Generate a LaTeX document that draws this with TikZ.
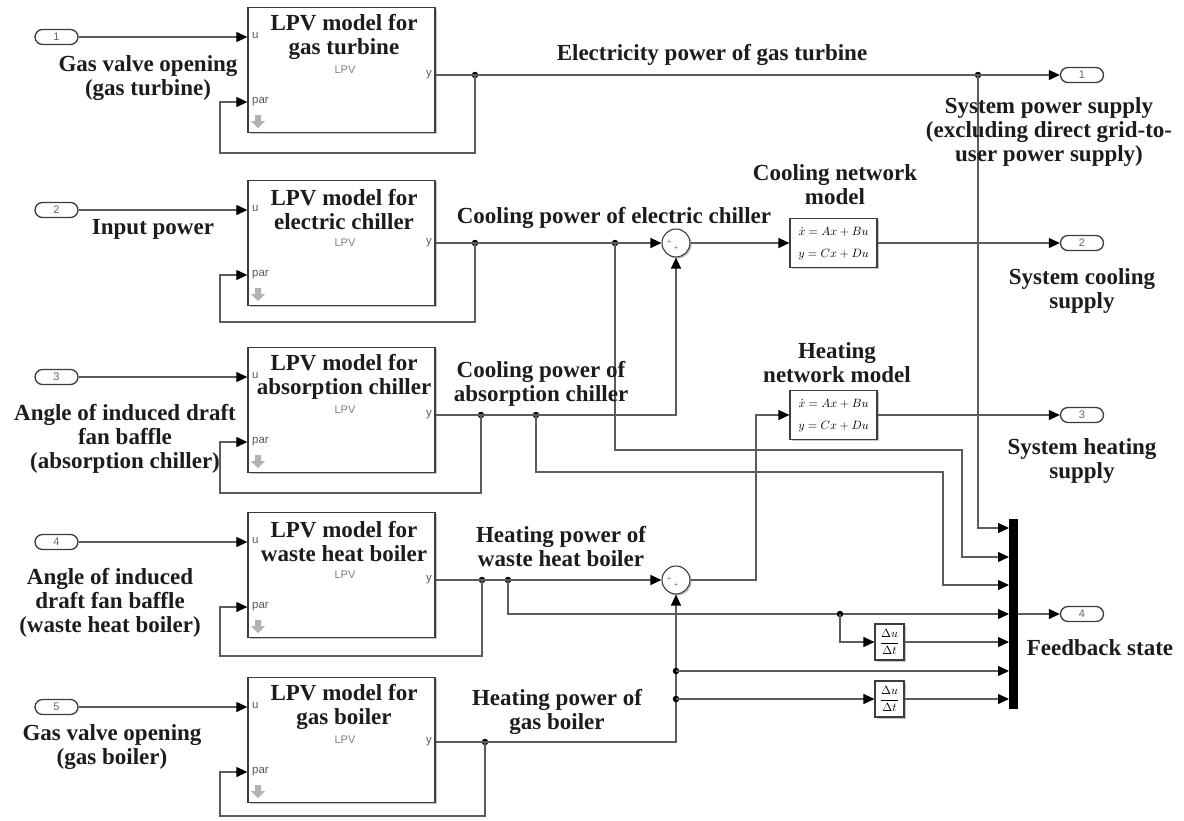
\documentclass[tikz,border=0pt]{standalone}
\usepackage{fontspec}
\setmainfont{Liberation Serif}
\setsansfont{Liberation Sans}
\usetikzlibrary{arrows.meta,shadows,calc}
\definecolor{wirec}{HTML}{5C5C5C}
\definecolor{boxc}{HTML}{3C3C3C}
\definecolor{txtc}{HTML}{1C1C1C}
\begin{document}
\begin{tikzpicture}[x=1pt,y=-1pt,
  wire/.style={draw=wirec,line width=1.2pt},
  arr/.style={wire,-{Triangle[length=11pt,width=10pt,color=black]}},
  shad/.style={drop shadow={shadow xshift=1.6pt,shadow yshift=-1.6pt,fill=black!22,opacity=1}},
  lpvbox/.style={draw=boxc,line width=1.3pt,fill=white,minimum width=187pt,minimum height=125pt,inner sep=0pt,shad},
  port/.style={draw=boxc,line width=1.3pt,rounded corners=7.5pt,minimum width=43pt,minimum height=15pt,inner sep=0pt,fill=white,
    font=\sffamily\fontsize{11}{11}\selectfont,text=black!60},
  lbl/.style={font=\bfseries\fontsize{23}{24}\selectfont,align=center,text=txtc,inner sep=0pt},
  small/.style={font=\sffamily\fontsize{11.5}{11.5}\selectfont,text=black!65,inner sep=0pt},
  lpvtxt/.style={font=\sffamily\fontsize{11}{11}\selectfont,text=black!50,inner sep=0pt},
  jdot/.style={circle,fill=black,inner sep=0pt,minimum size=6.5pt},
  sumc/.style={circle,draw=boxc,line width=1.1pt,fill=white,minimum size=28pt,inner sep=0pt,shad},
  ssbox/.style={draw=boxc,line width=1.2pt,fill=white,minimum width=87pt,minimum height=49pt,inner sep=0pt,shad},
  sstxt/.style={inner sep=0pt},
  dbox/.style={draw=boxc,line width=1.1pt,fill=white,minimum width=29pt,minimum height=36pt,inner sep=0pt,shad},
  plus/.style={font=\fontsize{8}{8}\selectfont,inner sep=0pt,text=black!70}
]
\useasboundingbox (0,0) rectangle (1184,820);

% ---------- LPV rows ----------
\foreach \n/\t/\o/\j/\f/\tb in {1/7/75/475/153/gas turbine,
                                   2/180/243/475/322/electric chiller,
                                   3/347/415/481/493/absorption chiller,
                                   4/512/580/482/656/waste heat boiler,
                                   5/677/742/485/816/gas boiler}{
  \node[lpvbox,anchor=north] (b\n) at (341.5,\t) {};
  \node[lbl] (b\n t) at (344,\t+30) {LPV model for\\\tb};
  \node[small,anchor=west] (b\n u) at (252,\t+29) {u};
  \node[small,anchor=west] (b\n p) at (252,\t+95) {par};
  \node[small,anchor=east] (b\n y) at (432,\o) {y};
  \node[lpvtxt] (b\n l) at (345,\t+63) {LPV};
  \fill[black!30] (255,\t+108) -- (261,\t+108) -- (261,\t+114) -- (265,\t+114) -- (258,\t+121) -- (251,\t+114) -- (255,\t+114) -- cycle;
  \node[port] (p\n) at (56.5,\t+30) {\n};
  \draw[arr] (p\n) -- (b\n.west |- p\n);
  \node[jdot] (jf\n) at (\j,\o) {};
  \draw[wire] (b\n.east |- jf\n) -- (jf\n.center);
  \draw[arr] (jf\n.center) -- (\j,\f) -- (220,\f) -- (220,\t+95) -- (b\n.west |- b\n p);
}

% ---------- input labels ----------
\node[lbl] (l1) at (148,78) {Gas valve opening\\(gas turbine)};
\node[lbl] (l2) at (153,229) {Input power};
\node[lbl] (l3) at (125,439) {Angle of induced draft\\fan baffle\\(absorption chiller)};
\node[lbl] (l4) at (110,603) {Angle of induced\\draft fan baffle\\(waste heat boiler)};
\node[lbl] (l5) at (112,747) {Gas valve opening\\(gas boiler)};

% ---------- mux ----------
\node[fill=black,minimum width=9pt,minimum height=190pt,inner sep=0pt] (mux) at (1013.5,614) {};
\coordinate (m1) at (1009,528);
\coordinate (m2) at (1009,557);
\coordinate (m3) at (1009,585);
\coordinate (m4) at (1009,614);
\coordinate (m5) at (1009,642);
\coordinate (m6) at (1009,671);
\coordinate (m7) at (1009,699);

% ---------- row 1 ----------
\node[jdot] (j1b) at (978,75) {};
\node[port] (o1) at (1082,75) {1};
\draw[arr] (jf1.center) -- (o1);
\draw[arr] (j1b.center) |- (m1);
\node[lbl] (t1) at (712,55) {Electricity power of gas turbine};

% ---------- row 2 ----------
\node[jdot] (j2b) at (615,243) {};
\node[sumc] (s1) at (676,243) {};
\node[plus] at ($(s1)+(-7,-1)$) {+};
\node[plus] at ($(s1)+(0,5)$) {+};
\draw[arr] (jf2.center) -- (s1);
\node[ssbox] (cn) at (833.5,243) {};
\node[sstxt] (cn1) at (833.5,232) {\scalebox{1.2}{$\dot{x} = Ax + Bu$}};
\node[sstxt] (cn2) at (833.5,255) {\scalebox{1.2}{$y = Cx + Du$}};
\draw[arr] (s1) -- (cn);
\node[port] (o2) at (1082,243) {2};
\draw[arr] (cn) -- (o2);
\draw[arr] (j2b.center) |- (962,450) |- (m2);
\node[lbl] (t2) at (614,218) {Cooling power of electric chiller};
\node[lbl] (t2b) at (835,185) {Cooling network\\model};

% ---------- row 3 ----------
\node[jdot] (j3b) at (536,415) {};
\draw[arr] (jf3.center) -| (s1.south);
\draw[arr] (j3b.center) |- (943,472) |- (m3);
\node[lbl] (t3) at (541,384) {Cooling power of\\absorption chiller};

% ---------- row 4 ----------
\node[jdot] (j4b) at (508,580) {};
\node[sumc] (s2) at (676,580) {};
\node[plus] at ($(s2)+(-7,-1)$) {+};
\node[plus] at ($(s2)+(0,5)$) {+};
\draw[arr] (jf4.center) -- (s2);
\draw[arr] (j4b.center) |- (m4);
\node[jdot] (j4c) at (840,614) {};
\node[dbox] (d1) at (889.5,642) {\scalebox{1.2}{$\displaystyle\frac{\Delta u}{\Delta t}$}};
\draw[arr] (j4c.center) |- (d1);
\draw[arr] (d1) -- (m5);
\node[ssbox] (hn) at (833.5,415) {};
\node[sstxt] (hn1) at (833.5,404) {\scalebox{1.2}{$\dot{x} = Ax + Bu$}};
\node[sstxt] (hn2) at (833.5,427) {\scalebox{1.2}{$y = Cx + Du$}};
\draw[arr] (s2) -- (756,580) |- (hn);
\node[port] (o3) at (1082,415) {3};
\draw[arr] (hn) -- (o3);
\node[lbl] (t4) at (561,547) {Heating power of\\waste heat boiler};
\node[lbl] (t4b) at (837,363) {Heating\\network model};

% ---------- row 5 ----------
\draw[arr] (jf5.center) -| (s2.south);
\node[jdot] (j5b) at (676,671) {};
\node[jdot] (j5c) at (676,699) {};
\draw[arr] (j5b.center) -- (m6);
\node[dbox] (d2) at (889.5,699) {\scalebox{1.2}{$\displaystyle\frac{\Delta u}{\Delta t}$}};
\draw[arr] (j5c.center) -- (d2);
\draw[arr] (d2) -- (m7);
\node[lbl] (t5) at (557,712) {Heating power of\\gas boiler};

% ---------- outputs ----------
\node[port] (o4) at (1082,614) {4};
\draw[arr] (mux.east |- o4) -- (o4);
\node[lbl] (r1) at (1049,132) {System power supply\\(excluding direct grid-to-\\user power supply)};
\node[lbl] (r2) at (1082,291) {System cooling\\supply};
\node[lbl] (r3) at (1082,461) {System heating\\supply};
\node[lbl] (r4) at (1100,648) {Feedback state};
\end{tikzpicture}
\end{document}
